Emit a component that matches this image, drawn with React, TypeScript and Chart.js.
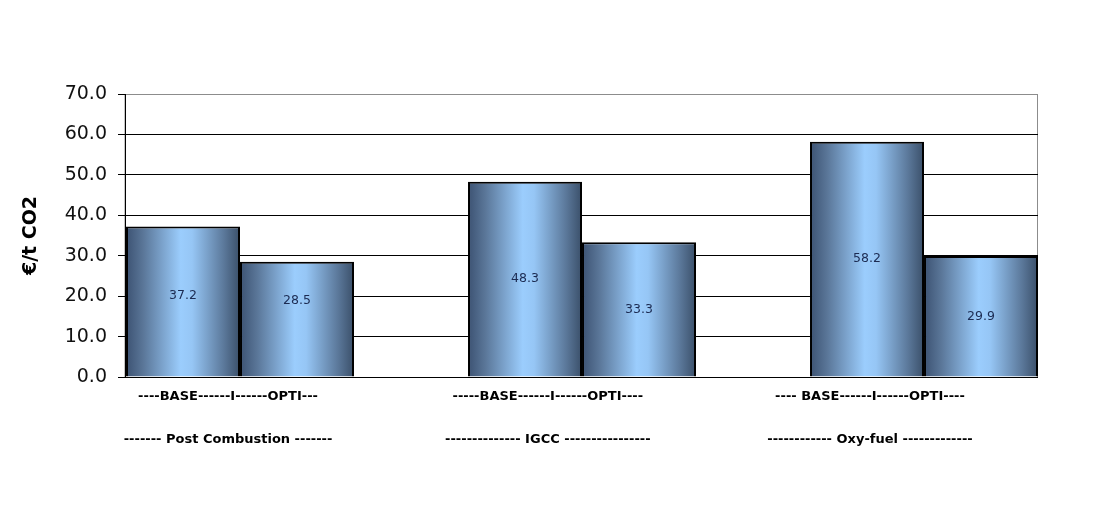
import React, { useEffect, useRef } from 'react';
import { Chart, registerables } from 'chart.js';

Chart.register(...registerables);

// groups along the bottom, two bars each
const groupIndex = [0, 1, 2];
const baseValues = [37.2, 48.3, 58.2];
const optiValues = [28.5, 33.3, 29.9];
const subLabels = [
  '----BASE------I------OPTI---',
  '-----BASE------I------OPTI----',
  '---- BASE------I------OPTI----',
];
const groupLabels = [
  '------- Post Combustion -------',
  '-------------- IGCC ----------------',
  '------------ Oxy-fuel -------------',
];
const yTicks = [0, 10, 20, 30, 40, 50, 60, 70];

// where the category captions sit (in group units) and small label nudges
const captionAt = [-0.035, 0.9, 1.842];
const tagNudge = [[-6, 0, 0], [-18, 0, 0]];

const X_MIN = -0.3363;
const X_MAX = 2.3333;
const FONT = '"DejaVu Sans", "Liberation Sans", Arial, sans-serif';

const barShade = {
  id: 'barShade',
  beforeDatasetsDraw(chart: any) {
    const ctx = chart.ctx;
    chart.data.datasets.forEach((_: any, di: number) => {
      chart.getDatasetMeta(di).data.forEach((bar: any) => {
        const { x, width } = bar.getProps(['x', 'width'], true);
        const g = ctx.createLinearGradient(x - width / 2, 0, x + width / 2, 0);
        g.addColorStop(0, '#3c5272');
        g.addColorStop(0.15, '#5a7698');
        g.addColorStop(0.48, '#9bcdfd');
        g.addColorStop(0.58, '#96c6f5');
        g.addColorStop(0.86, '#5b789a');
        g.addColorStop(1, '#3a4f69');
        bar.options.backgroundColor = g;
      });
    });
  },
};

const plotFrame = {
  id: 'plotFrame',
  beforeDraw(chart: any) {
    const { ctx, chartArea: a } = chart;
    ctx.save();
    ctx.strokeStyle = '#8c8c8c';
    ctx.lineWidth = 1;
    ctx.strokeRect(a.left, a.top + 0.5, a.right - a.left - 0.5, a.bottom - a.top);
    ctx.restore();
  },
};

const valueTags = {
  id: 'valueTags',
  afterDatasetsDraw(chart: any) {
    const ctx = chart.ctx;
    ctx.save();
    ctx.font = '12.5px ' + FONT;
    ctx.fillStyle = '#1c2b52';
    ctx.textAlign = 'center';
    ctx.textBaseline = 'middle';
    chart.data.datasets.forEach((ds: any, di: number) => {
      chart.getDatasetMeta(di).data.forEach((bar: any, i: number) => {
        const { x, y, base } = bar.getProps(['x', 'y', 'base'], true);
        ctx.fillText(ds.data[i].y.toFixed(1), x, (y + base) / 2 + tagNudge[di][i]);
      });
    });
    ctx.restore();
  },
};

const App = () => {
  const canvasRef = useRef<HTMLCanvasElement>(null);

  useEffect(() => {
    if (!canvasRef.current) return;
    Chart.defaults.font.family = FONT;

    const chart = new Chart(canvasRef.current, {
      type: 'bar',
      data: {
        datasets: [
          {
            label: 'BASE',
            data: groupIndex.map((g, i) => ({ x: g, y: baseValues[i] })),
            backgroundColor: () => '#8ab4e0',
            borderColor: '#000',
            borderWidth: 2,
            categoryPercentage: 2 / 3,
            barPercentage: 1,
          },
          {
            label: 'OPTI',
            data: groupIndex.map((g, i) => ({ x: g, y: optiValues[i] })),
            backgroundColor: () => '#8ab4e0',
            borderColor: '#000',
            borderWidth: 2,
            categoryPercentage: 2 / 3,
            barPercentage: 1,
          },
        ],
      },
      options: {
        animation: false,
        responsive: true,
        maintainAspectRatio: false,
        layout: { padding: { top: 94, right: 68, left: 0, bottom: 0 } },
        plugins: {
          legend: { display: false },
          tooltip: { enabled: false },
        },
        scales: {
          x: {
            type: 'linear',
            display: false,
            offset: false,
            min: X_MIN,
            max: X_MAX,
            afterBuildTicks: (s: any) => {
              s.ticks = groupIndex.map((v) => ({ value: v }));
            },
          },
          captions: {
            type: 'linear',
            position: 'bottom',
            offset: false,
            min: X_MIN,
            max: X_MAX,
            afterBuildTicks: (s: any) => {
              s.ticks = captionAt.map((v) => ({ value: v }));
            },
            afterFit: (s: any) => {
              s.height = 136;
            },
            grid: { display: false, drawTicks: false },
            border: { display: false },
            ticks: {
              autoSkip: false,
              maxRotation: 0,
              padding: -2,
              color: '#000',
              font: { size: 13, weight: 'bold', lineHeight: 43 / 13 },
              callback: (_v: any, i: number) => [subLabels[i], groupLabels[i]],
            },
          },
          y: {
            min: 0,
            max: 70,
            afterBuildTicks: (s: any) => {
              s.ticks = yTicks.map((v) => ({ value: v }));
            },
            afterFit: (s: any) => {
              s.width = 125;
            },
            ticks: {
              padding: 11,
              color: '#111',
              font: { size: 19 },
              callback: (v: any) => Number(v).toFixed(1),
            },
            grid: {
              color: (c: any) => (c.tick && c.tick.value === 70 ? '#8c8c8c' : '#000'),
              tickColor: '#000',
              tickLength: 7,
              lineWidth: 1,
            },
            border: { color: '#000', width: 1 },
            title: {
              display: true,
              text: '€/t CO2',
              color: '#000',
              font: { size: 19, weight: 'bold' },
              padding: { top: 20, bottom: 0 },
            },
          },
        },
      } as any,
      plugins: [plotFrame, barShade, valueTags],
    });

    return () => {
      chart.destroy();
    };
  }, []);

  return (
    <div style={{ position: 'absolute', left: 0, top: 0, width: 1106, height: 513, background: '#fff' }}>
      <canvas ref={canvasRef} />
    </div>
  );
};

export default App;
